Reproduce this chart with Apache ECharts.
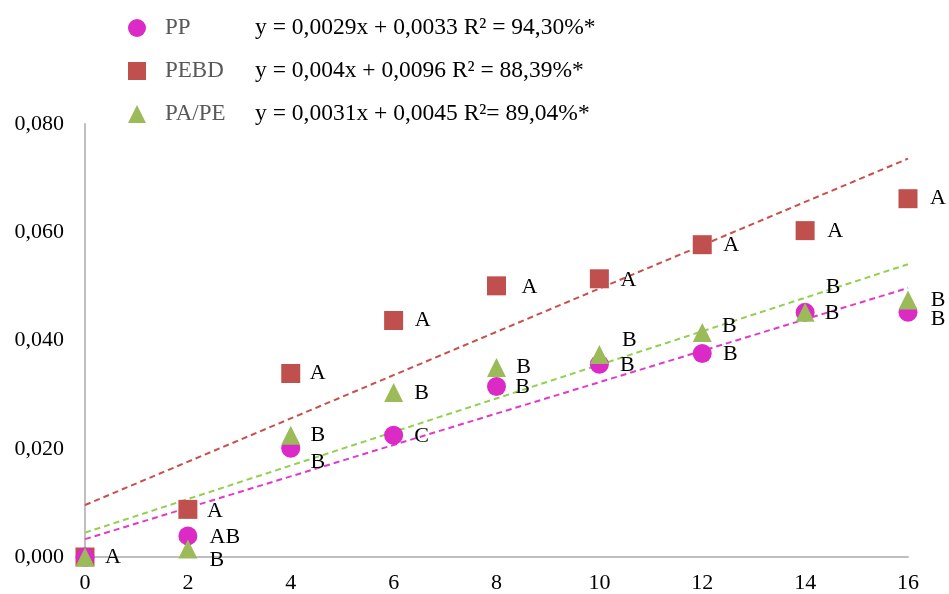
<!DOCTYPE html>
<html>
<head>
<meta charset="utf-8">
<script src="https://cdn.jsdelivr.net/npm/echarts@6/dist/echarts.min.js"></script>
<style>
html,body{margin:0;padding:0;background:#fff;}
#chart{width:949px;height:594px;}
</style>
</head>
<body>
<div id="chart"></div>
<script>
// ---- data ----
var xValues = [0, 2, 4, 6, 8, 10, 12, 14, 16];
var ppValues   = [0.0000, 0.0039, 0.0201, 0.0225, 0.0315, 0.0356, 0.0376, 0.0452, 0.0452];
var pebdValues = [0.0000, 0.0088, 0.0339, 0.0437, 0.0501, 0.0514, 0.0577, 0.0603, 0.0662];
var papeValues = [0.0000, 0.0015, 0.0225, 0.0304, 0.0350, 0.0374, 0.0415, 0.0452, 0.0475];

var ppLetters   = ['', 'AB', 'B', 'C', 'B', 'B', 'B', 'B', 'B'];
var pebdLetters = ['A', 'A', 'A', 'A', 'A', 'A', 'A', 'A', 'A'];
var papeLetters = ['', 'B', 'B', 'B', 'B', 'B', 'B', 'B', 'B'];

var seriesNames = ['PP', 'PEBD', 'PA/PE'];
var slopes      = [0.0029, 0.004, 0.0031];
var intercepts  = [0.0033, 0.0096, 0.0045];
var equations   = [
  'y = 0,0029x + 0,0033 R\u00b2 = 94,30%*',
  'y = 0,004x + 0,0096 R\u00b2 = 88,39%*',
  'y = 0,0031x + 0,0045 R\u00b2= 89,04%*'
];
var xTicks = [0, 16, 2];       // min, max, interval
var yTicks = [0, 0.08, 0.02];  // min, max, interval

// ---- label placement (style, not data) ----
var ppOffsets   = [[0,0],[37,1],[27,14],[28,1],[26,1],[28,1],[28,1],[27,1],[30,7]];
var pebdOffsets = [[28,0],[27,2],[27,0],[29,0],[33,1],[29,1],[29,1],[30,1],[30,0]];
var papeOffsets = [[0,0],[29,11],[27,0],[28,1],[27,0],[30,-14],[27,-6],[28,-25],[30,0]];

var colors = { 'PP': '#DC2AC6', 'PEBD': '#C0504D', 'PA/PE': '#9BBB59' };
var lineColors = { 'PP': '#E03ACB', 'PEBD': '#C8504A', 'PA/PE': '#92D050' };
var symbols = { 'PP': 'circle', 'PEBD': 'rect', 'PA/PE': 'triangle' };
var sizes = { 'PP': 19, 'PEBD': 19, 'PA/PE': 19 };

var serif = 'Liberation Serif, Times New Roman, serif';

function buildPoints(values, letters, offsets) {
  return xValues.map(function (x, i) {
    return {
      value: [x, values[i]],
      label: { show: letters[i] !== '', formatter: letters[i], offset: offsets[i] }
    };
  });
}

function scatterSeries(name, values, letters, offsets, z) {
  return {
    name: name,
    type: 'scatter',
    symbol: symbols[name],
    symbolSize: sizes[name],
    itemStyle: { color: colors[name], opacity: 1 },
    z: z,
    label: {
      position: 'inside',
      align: 'center',
      verticalAlign: 'middle',
      fontFamily: serif,
      fontSize: 22,
      color: '#000'
    },
    emphasis: { disabled: true },
    data: buildPoints(values, letters, offsets)
  };
}

function trendSeries(idx) {
  var name = seriesNames[idx];
  return {
    name: name + ' trend',
    type: 'line',
    showSymbol: false,
    symbol: 'none',
    silent: true,
    z: 1,
    lineStyle: { color: lineColors[name], width: 2, type: [6, 4] },
    data: [
      [xTicks[0], intercepts[idx] + slopes[idx] * xTicks[0]],
      [xTicks[1], intercepts[idx] + slopes[idx] * xTicks[1]]
    ]
  };
}

var chart = echarts.init(document.getElementById('chart'));
chart.setOption({
  animation: false,
  backgroundColor: '#fff',
  grid: { left: 85, right: 41, top: 124, bottom: 36, containLabel: false },
  legend: {
    data: seriesNames.map(function (n) { return { name: n, icon: symbols[n] }; }),
    orient: 'vertical',
    left: 128,
    top: 16,
    padding: 0,
    itemWidth: 18,
    itemHeight: 18,
    itemGap: 19,
    selectedMode: false,
    formatter: function (name) {
      return '{n|' + name + '}{e|' + equations[seriesNames.indexOf(name)] + '}';
    },
    textStyle: {
      rich: {
        n: { fontFamily: serif, fontSize: 23, color: '#595959', width: 90, padding: [0, 0, 0, 14], lineHeight: 22 },
        e: { fontFamily: serif, fontSize: 23.5, color: '#000', lineHeight: 22 }
      }
    }
  },
  xAxis: {
    type: 'value',
    min: xTicks[0], max: xTicks[1], interval: xTicks[2],
    axisLine: { show: true, lineStyle: { color: '#BFBFBF', width: 2 } },
    axisTick: { show: false },
    splitLine: { show: false },
    axisLabel: { fontFamily: serif, fontSize: 22, color: '#000', margin: 15 }
  },
  yAxis: {
    type: 'value',
    min: yTicks[0], max: yTicks[1], interval: yTicks[2],
    axisLine: { show: true, lineStyle: { color: '#BFBFBF', width: 2 } },
    axisTick: { show: false },
    splitLine: { show: false },
    axisLabel: {
      fontFamily: serif, fontSize: 22, color: '#000', margin: 21,
      formatter: function (v) { return v.toFixed(3).replace('.', ','); }
    }
  },
  series: [
    trendSeries(0), trendSeries(1), trendSeries(2),
    scatterSeries('PEBD', pebdValues, pebdLetters, pebdOffsets, 3),
    scatterSeries('PP', ppValues, ppLetters, ppOffsets, 4),
    scatterSeries('PA/PE', papeValues, papeLetters, papeOffsets, 5)
  ]
});
</script>
</body>
</html>
